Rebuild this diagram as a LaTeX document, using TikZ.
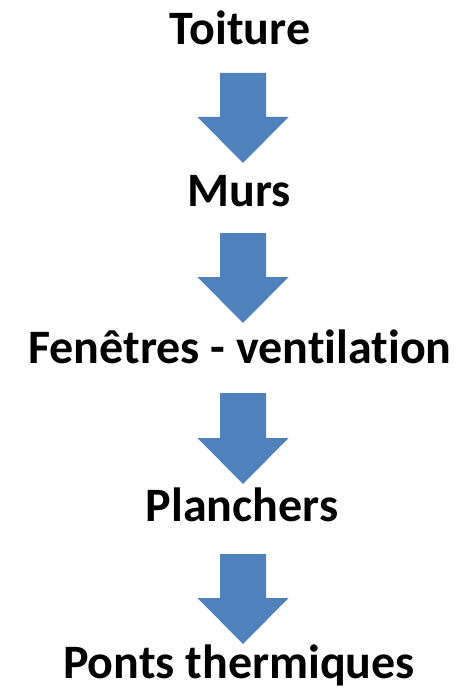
\documentclass[tikz,border=0pt]{standalone}
\usepackage{fontspec}
\setmainfont{Carlito}[Ligatures=NoCommon]
\usetikzlibrary{calc}
\definecolor{arrowblue}{RGB}{79,129,189}
\tikzset{
  label/.style={anchor=base, inner sep=0pt, font=\fontsize{48}{56}\selectfont\bfseries, text=black},
  blockarrow/.style={fill=arrowblue, draw=none}
}
\newcommand{\myblockarrow}[2]{%
  \fill[blockarrow] ($(#1)+(-23,0)$) -- ($(#1)+(23,0)$) -- ($(#2)+(23,-46)$) -- ($(#2)+(45.5,-46)$) -- (#2) -- ($(#2)+(-45.5,-46)$) -- ($(#2)+(-23,-46)$) -- cycle;}
\begin{document}
\begin{tikzpicture}[x=1pt,y=-1pt]
\useasboundingbox (0,0) rectangle (460,695);
\node[label] (n1) at (240,45) {Toiture};
\node[label] (n2) at (239,206) {Murs};
\node[label] (n3) at (240,363) {Fenêtres - ventilation};
\node[label] (n4) at (242,521) {Planchers};
\node[label] (n5) at (239,678) {Ponts thermiques};
\coordinate (a1t) at (243,73);  \coordinate (a1b) at (243,163);
\coordinate (a2t) at (243,233); \coordinate (a2b) at (243,323);
\coordinate (a3t) at (243,393); \coordinate (a3b) at (243,484);
\coordinate (a4t) at (243,554); \coordinate (a4b) at (243,644);
\myblockarrow{a1t}{a1b}
\myblockarrow{a2t}{a2b}
\myblockarrow{a3t}{a3b}
\myblockarrow{a4t}{a4b}
\end{tikzpicture}
\end{document}
